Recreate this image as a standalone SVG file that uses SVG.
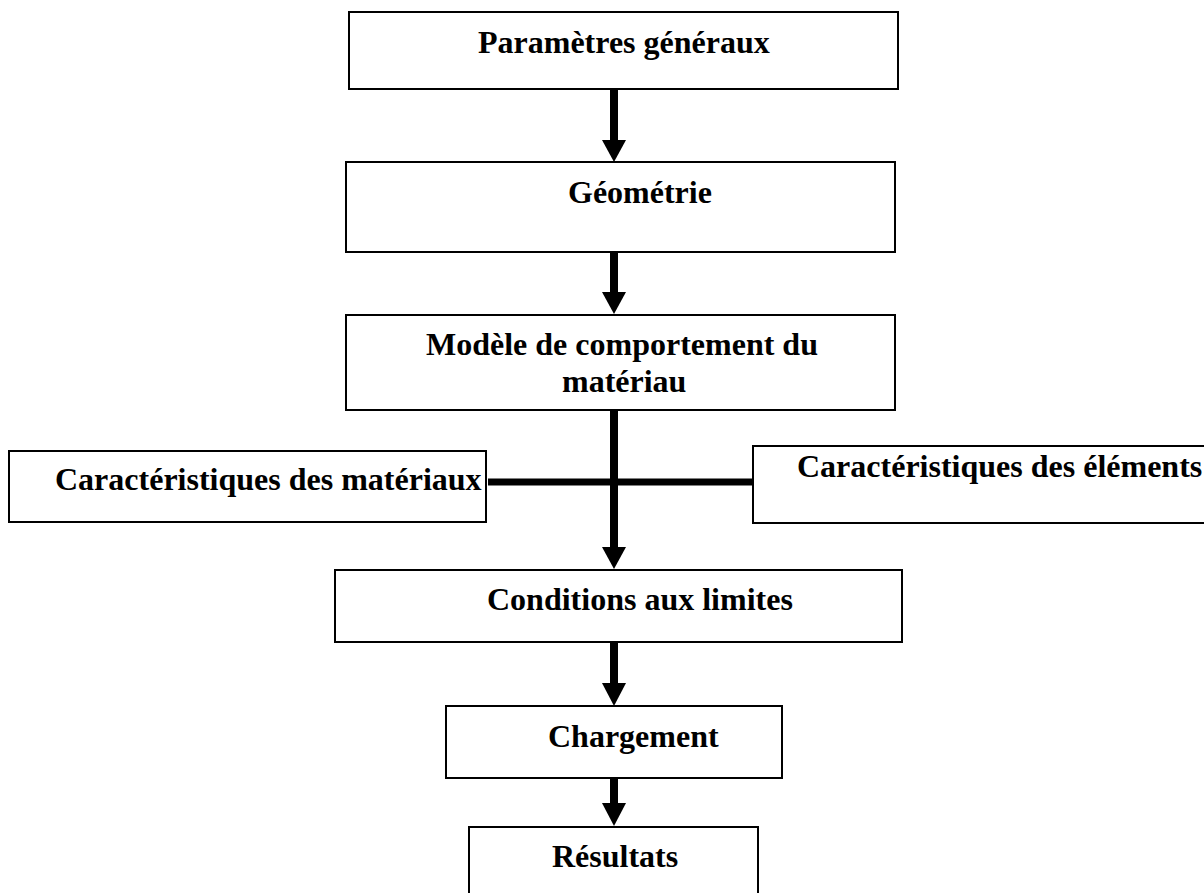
<svg xmlns="http://www.w3.org/2000/svg" width="1204" height="893" viewBox="0 0 1204 893">
<style>
.box{fill:#fff;stroke:#000;stroke-width:2}
.t{font-family:"Liberation Serif","Times New Roman",serif;font-weight:bold;font-size:32px;fill:#000}
.shaft{stroke:#000;stroke-width:8;fill:none}
.head{fill:#000}
</style>
<rect width="1204" height="893" fill="#fff"/>
<g id="n1"><rect class="box" x="349" y="12" width="549" height="77"/><text class="t" x="478" y="53">Paramètres généraux</text></g>
<g id="n2"><rect class="box" x="346" y="162" width="549" height="90"/><text class="t" x="568" y="203">Géométrie</text></g>
<g id="n3"><rect class="box" x="346" y="315" width="549" height="95"/><text class="t" x="426" y="355">Modèle de comportement du</text><text class="t" x="562" y="392">matériau</text></g>
<g id="n4"><rect class="box" x="9" y="451" width="477" height="71"/><text class="t" x="55" y="490">Caractéristiques des matériaux</text></g>
<g id="n5"><rect class="box" x="753" y="446" width="460" height="77"/><text class="t" x="797" y="477">Caractéristiques des éléments</text></g>
<g id="n6"><rect class="box" x="335" y="570" width="567" height="72"/><text class="t" x="487" y="610">Conditions aux limites</text></g>
<g id="n7"><rect class="box" x="446" y="706" width="336" height="72"/><text class="t" x="548" y="747">Chargement</text></g>
<g id="n8"><rect class="box" x="469" y="827" width="289" height="70"/><text class="t" x="552" y="867">Résultats</text></g>
<g id="connectors">
<line class="shaft" x1="614" y1="89" x2="614" y2="142"/><polygon class="head" points="602,140 626,140 614,162"/>
<line class="shaft" x1="614" y1="253" x2="614" y2="294"/><polygon class="head" points="602,292 626,292 614,314"/>
<line class="shaft" x1="614" y1="410" x2="614" y2="549"/><polygon class="head" points="602,547 626,547 614,569"/>
<line x1="488" y1="482" x2="752" y2="482" stroke="#000" stroke-width="7"/>
<line class="shaft" x1="614" y1="643" x2="614" y2="685"/><polygon class="head" points="602,683 626,683 614,706"/>
<line class="shaft" x1="614" y1="779" x2="614" y2="805"/><polygon class="head" points="602,803 626,803 614,826"/>
</g>
</svg>
